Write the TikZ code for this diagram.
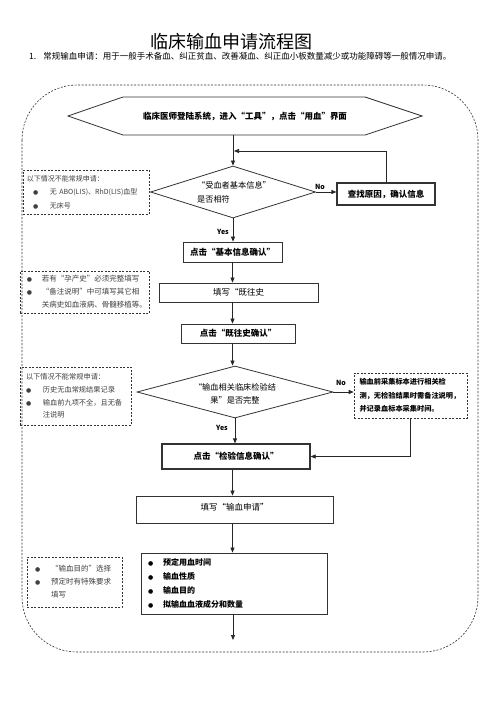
\documentclass[tikz,border=0pt]{standalone}
\usepackage{fontspec}
\setmainfont{Noto Sans CJK SC}
\newfontfamily\dejavu{DejaVu Sans}
\usetikzlibrary{shapes.geometric,arrows.meta}
\newcommand{\bul}{{\dejavu\fontsize{6}{6}\selectfont ●}}
\begin{document}
\begin{tikzpicture}[x=1pt,y=-1pt,
  line/.style={draw=black!80, line width=0.8pt},
  box/.style={line, rectangle, inner sep=0pt, font=\fontsize{8.5}{10}\selectfont},
  bbox/.style={box, font=\fontsize{8.5}{10}\selectfont\bfseries},
  dia/.style={line, diamond, inner sep=0pt},
  note/.style={draw=black!80, dash pattern=on 2pt off 1.5pt, line width=0.6pt,
    rectangle, inner sep=0pt, align=left, text=black!75},
  arr/.style={-{Triangle[length=5pt,width=4pt]}, line width=0.7pt, draw=black!85},
  lbl/.style={font=\fontsize{7}{8}\selectfont\bfseries, inner sep=0pt}]
\useasboundingbox (0,0) rectangle (496,702);
\fill[white] (0,0) rectangle (496,702);

% title
\node (title) at (231,42) {\fontsize{18}{20}\selectfont 临床输血申请流程图};
\node[anchor=west, inner sep=0pt] (sub) at (29,56) {\fontsize{8.5}{10}\selectfont 1.\hspace{7pt}常规输血申请：用于一般手术备血、纠正贫血、改善凝血、纠正血小板数量减少或功能障碍等一般情况申请。};

% outer dashed boundary
\draw[black!80, dash pattern=on 2pt off 1.5pt, line width=0.6pt, rounded corners=55] (22,85) rectangle (478,652);

% start hexagon
\draw[line] (68,116) -- (123,97) -- (365,97) -- (422,116) -- (365,135) -- (123,135) -- cycle;
\node[minimum width=354, minimum height=38, inner sep=0pt, font=\fontsize{8.5}{10}\selectfont\bfseries] (start) at (245,116) {临床医师登陆系统，进入“工具”，点击“用血”界面};

% decision 1
\node[dia, minimum width=165, minimum height=52] (d1) at (233,192) {};
\node[align=left, font=\fontsize{8.2}{14}\selectfont, inner sep=0pt] (d1t) at (234,192) {“受血者基本信息”\\是否相符};
\node[bbox, line width=1.2pt, minimum width=98, minimum height=22] (find) at (386,194) {查找原因，确认信息};
\coordinate (fb) at (234,151);

% note 1
\node[note, minimum width=126, minimum height=44, text width=118, font=\fontsize{7}{13.5}\selectfont] (n1) at (86,192)
 {以下情况不能常规申请：\\\hspace*{6pt}\makebox[17pt][l]{\bul}无 ABO(LIS)、RhD(LIS)血型\\\hspace*{6pt}\makebox[17pt][l]{\bul}无床号};

% step boxes
\node[bbox, minimum width=99, minimum height=20] (b1) at (232.5,252) {点击“基本信息确认”};
\node[box, minimum width=159, minimum height=19] (b2) at (238.5,292.5) {填写“既往史};
\node[note, minimum width=129, minimum height=42, text width=115, font=\fontsize{7.5}{13}\selectfont] (n2) at (84.5,292)
 {\makebox[15pt][l]{\bul}若有“孕产史”必须完整填写\\\makebox[15pt][l]{\bul}“备注说明”中可填写其它相\\\hspace*{15pt}关病史如血液病、骨髓移植等。};
\node[bbox, minimum width=114, minimum height=19] (b3) at (238,333.5) {点击“既往史确认”};

% decision 2
\node[dia, minimum width=196, minimum height=52] (d2) at (235,392) {};
\node[align=center, font=\fontsize{8.2}{13}\selectfont, inner sep=0pt] (d2t) at (235,393.5) {“输血相关临床检验结\\果”是否完整};
\node[note, text=black, minimum width=113, minimum height=45, text width=102, font=\fontsize{7.2}{13.5}\selectfont\bfseries] (nb) at (410.5,395.5)
 {输血前采集标本进行相关检\\测，无检验结果时需备注说明，\\并记录血标本采集时间。};
\node[note, minimum width=111, minimum height=58, text width=99, font=\fontsize{7.2}{12.8}\selectfont] (n3) at (75.5,396)
 {以下情况不能常规申请：\\\makebox[17pt][l]{\bul}历史无血常规结果记录\\\makebox[17pt][l]{\bul}输血前九项不全，且无备\\\hspace*{17pt}注说明};

\node[bbox, line width=1.2pt, minimum width=148, minimum height=25] (b4) at (236,456.5) {点击“检验信息确认”};
\node[box, minimum width=197, minimum height=27, text depth=6pt] (b5) at (234.5,509.5) {填写“输血申请”};
\node[box, minimum width=186, minimum height=61, text width=172, align=left, font=\fontsize{8}{13.7}\selectfont\bfseries] (b6) at (234,583.5)
 {\makebox[15pt][l]{\bul}预定用血时间\\\makebox[15pt][l]{\bul}输血性质\\\makebox[15pt][l]{\bul}输血目的\\\makebox[15pt][l]{\bul}拟输血血液成分和数量};
\node[note, minimum width=95, minimum height=50, text width=79, font=\fontsize{7.5}{13}\selectfont] (n4) at (74.5,582)
 {\makebox[16pt][l]{\bul}“输血目的”选择\\\makebox[16pt][l]{\bul}预定时有特殊要求\\\hspace*{16pt}填写};
\coordinate (end) at (233,640);

% connectors
\draw[arr] (start.south -| d1.north) -- (d1.north);
\draw[arr] (d1.east) -- (find.west |- d1.east);
\draw[arr] (find.north) |- (fb);
\draw[arr] (d1.south) -- (d1.south |- b1.north);
\draw[arr] (b1.south) -- (b1.south |- b2.north);
\draw[arr] (b2.south -| b1.south) -- (b1.south |- b3.north);
\draw[arr] (b3.south -| b1.south) -- (b1.south |- d2.north);
\draw[arr] (d2.east) -- (nb.west |- d2.east);
\draw[arr] (d2.south) -- (d2.south |- b4.north);
\draw[arr] (nb.south) |- (b4.east);
\draw[arr] (b4.south -| b1.south) -- (b1.south |- b5.north);
\draw[arr] (b5.south -| b1.south) -- (b1.south |- b6.north);
\draw[arr] (b6.south -| end) -- (end);

% labels
\node[lbl] (no1) at (320,187) {No};
\node[lbl] (yes1) at (223,232) {Yes};
\node[lbl] (no2) at (341,383) {No};
\node[lbl] (yes2) at (222,428) {Yes};
\end{tikzpicture}
\end{document}
